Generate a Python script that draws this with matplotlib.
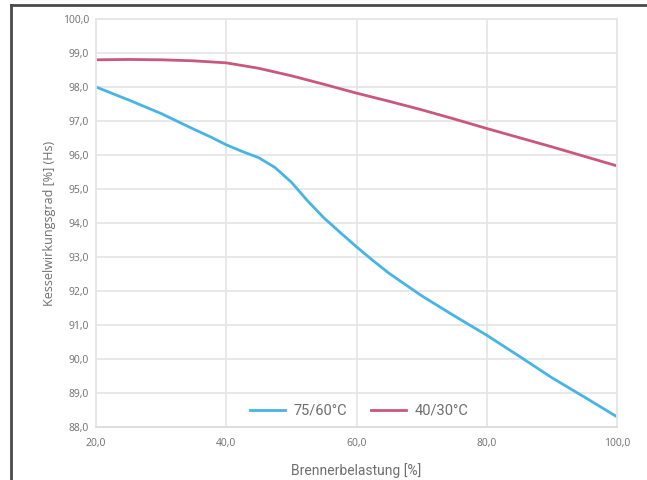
import numpy as np
import matplotlib.pyplot as plt
from matplotlib.lines import Line2D

# Brennerbelastung [%] und Kesselwirkungsgrad [%] (Hs)
x_blue = [20, 25, 30, 35, 37.5, 40, 42.5, 45, 47.5, 50, 52.5, 55, 57.5, 60, 62.5, 65,
          70, 75, 80, 85, 90, 95, 100]
y_blue = [98.0, 97.62, 97.22, 96.76, 96.54, 96.3, 96.1, 95.92, 95.63, 95.2, 94.65, 94.15,
          93.72, 93.3, 92.9, 92.52, 91.86, 91.27, 90.7, 90.08, 89.45, 88.88, 88.3]

x_red = [20, 25, 30, 35, 40, 45, 50, 55, 60, 65, 70, 75, 80, 85, 90, 95, 100]
y_red = [98.80, 98.81, 98.80, 98.77, 98.71, 98.55, 98.33, 98.08, 97.82, 97.58, 97.33,
         97.06, 96.78, 96.51, 96.24, 95.96, 95.68]

labels = ['75/60°C', '40/30°C']
xticks = [20, 40, 60, 80, 100]
yticks = np.arange(88, 101, 1)

blue = '#46b4e4'
red = '#c9577f'
grid_c = '#e6e6e6'
text_c = '#6e6e6e'

fig = plt.figure(figsize=(6.47, 4.8), dpi=100)
ax = fig.add_axes([96/647, 1 - 427/480, (617 - 96)/647, (427 - 19)/480])

ax.plot(x_blue, y_blue, color=blue, lw=2.0, label=labels[0], solid_joinstyle='round')
ax.plot(x_red, y_red, color=red, lw=2.0, label=labels[1], solid_joinstyle='round')

ax.set_xlim(20, 100)
ax.set_ylim(88, 100)
ax.set_xticks(xticks)
ax.set_yticks(yticks)
ax.set_xticklabels([f'{v:.1f}'.replace('.', ',') for v in xticks],
                   fontfamily='Open Sans', fontsize=7.5, color=text_c)
ax.set_yticklabels([f'{v:.1f}'.replace('.', ',') for v in yticks],
                   fontfamily='Open Sans', fontsize=7.5, color=text_c)
ax.tick_params(axis='y', length=0, pad=5)
ax.tick_params(axis='x', length=0, pad=8)
ax.grid(True, color=grid_c, lw=1.3)
ax.set_axisbelow(True)
for s in ax.spines.values():
    s.set_color(grid_c)
    s.set_linewidth(1.3)
ax.spines['bottom'].set_color('#dcdcdc')

ax.set_xlabel('Brennerbelastung [%]', fontfamily='Roboto', fontsize=10,
              color=text_c, labelpad=10)
ax.set_ylabel('Kesselwirkungsgrad [%] (Hs)', fontfamily='Open Sans', fontsize=9,
              color=text_c, labelpad=5)

ax.legend(loc='lower center', bbox_to_anchor=(0.505, -0.01), ncol=2, frameon=False,
          handlelength=2.4, columnspacing=1.6, handletextpad=0.6,
          prop={'family': 'Roboto', 'size': 10.5}, labelcolor=text_c)

# dunkler Rahmen oben und links
fig.add_artist(Line2D([11/647, 11/647], [0, 1 - 5/480], color='#4a4a4a', lw=2,
                      transform=fig.transFigure))
fig.add_artist(Line2D([11/647, 1], [1 - 5/480, 1 - 5/480], color='#4a4a4a', lw=2,
                      transform=fig.transFigure))

fig.savefig('out.png', dpi=100)
